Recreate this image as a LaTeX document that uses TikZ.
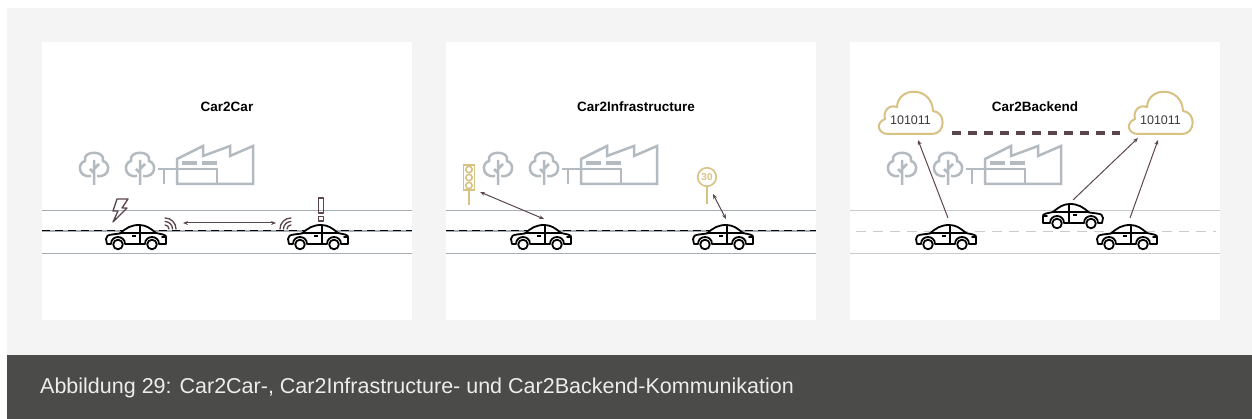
\documentclass[tikz,border=0pt]{standalone}
\usepackage{fontspec}
\setmainfont{Liberation Sans}
\usetikzlibrary{arrows.meta}

\definecolor{pagegray}{HTML}{F4F4F4}
\definecolor{barcol}{HTML}{4B4B49}
\definecolor{captext}{HTML}{EDEDED}
\definecolor{mauve}{HTML}{5B4650}
\definecolor{gold}{HTML}{D7C283}
\definecolor{scenery}{HTML}{B3BBC0}
\definecolor{roadcol}{HTML}{A7AEB3}
\definecolor{roadlight}{HTML}{C6CCD0}
\definecolor{cloudtext}{HTML}{3A3A3A}

\tikzset{
  panel/.style={fill=white, draw=none},
  roadline/.style={roadcol, line width=1.3pt},
  centerdash/.style={black, line width=1pt, dash pattern=on 8pt off 5pt},
  lightdash/.style={roadlight, line width=1.3pt, dash pattern=on 10pt off 7pt},
  sceneline/.style={scenery, line width=2.5pt, line join=miter},
  carline/.style={black, line width=1.8pt, line join=round, line cap=round},
  signal/.style={mauve, line width=1.3pt, line cap=round},
  iconline/.style={mauve, line width=1.3pt, line join=round},
  goldline/.style={gold, line width=1.6pt},
  cloudline/.style={gold, line width=2pt, line join=round},
  tip/.tip={Stealth[length=5pt,width=4pt]},
  link/.style={mauve, line width=1pt, tip-tip},
  uplink/.style={mauve, line width=1pt, -tip},
  backbone/.style={mauve, line width=3.5pt, dash pattern=on 9pt off 7pt},
  title/.style={font=\bfseries\fontsize{13.5}{15}\selectfont, text=black},
  bits/.style={font=\fontsize{12.5}{14}\selectfont, text=cloudtext},
  % tree: origin at the top middle of the crown
  tree/.pic={
    \draw[sceneline] (-3,23) .. controls (-16,25) and (-17,10) .. (-9,8)
      .. controls (-12,-3) and (12,-3) .. (9,8)
      .. controls (17,10) and (16,25) .. (3,23);
    \draw[sceneline] (0,7) -- (0,32) (0,20) -- (-4,16) (0,16) -- (5,11);
  },
  % factory with sawtooth roof: origin at the top-left corner
  factory/.pic={
    \draw[sceneline] (19,39) -- (19,14) -- (45,1) -- (45,11) -- (72,1) -- (72,11)
      -- (95,1) -- (95,39) -- cycle;
    \draw[sceneline] (0,24) -- (59,24) -- (59,39) (6,24) -- (6,39);
    \draw[scenery, line width=4pt] (24,18) -- (39,18) (44,18) -- (59,18);
  },
  % sedan facing right: origin at the top-left corner
  car/.pic={
    \draw[carline, fill=white] (6,19) -- (2,19) -- (1,14)
      .. controls (1,11) and (3,10) .. (7,9.5) -- (15,8.5)
      .. controls (21,3) and (26,0) .. (34,0)
      .. controls (41,0) and (45,3) .. (51,8) -- (58,9.5)
      .. controls (61,10) and (61,11) .. (61,13) -- (61,19) -- (54,19)
      .. controls (54,9.7) and (40,9.7) .. (40,19) -- (20,19)
      .. controls (20,9.7) and (6,9.7) .. (6,19) -- cycle;
    \draw[carline] (15,8) -- (51,8) (35,0) -- (35,19) (57,12) -- (61,12);
    \fill[black] (27,10) rectangle (31,12.5);
    \draw[carline, fill=white] (13,19.5) circle[radius=4.8pt] (47,19.5) circle[radius=4.8pt];
  },
  % data cloud: origin at the top-left corner
  cloud/.pic={
    \draw[cloudline, fill=white] (10,42) -- (54,42)
      .. controls (68,42) and (68,20) .. (55,19)
      .. controls (54,-6) and (20,-6) .. (19,15)
      .. controls (10,12) and (5,20) .. (7,27)
      .. controls (-3,31) and (0,42) .. (10,42) -- cycle;
  }
}

\begin{document}
\begin{tikzpicture}[x=1pt, y=-1pt]
  \useasboundingbox (0,0) rectangle (1252,419);
  \fill[white] (0,0) rectangle (1252,419);
  \fill[pagegray] (7,8) rectangle (1252,355);
  \fill[barcol] (7,355) rectangle (1252,419);

  % three panels
  \fill[panel] (42,42) rectangle (412,320);
  \fill[panel] (446,42) rectangle (816,320);
  \fill[panel] (850,42) rectangle (1220,320);

  % roads
  \foreach \xa/\xb in {42/412, 446/816} {
    \draw[roadline] (\xa,210.5) -- (\xb,210.5);
    \draw[roadline] (\xa,253.5) -- (\xb,253.5);
    \draw[roadline] (\xa,231) -- (\xb,231);
    \draw[centerdash] (\xa,231) -- (\xb,231);
  }
  \draw[roadline, roadlight] (850,210.5) -- (1220,210.5);
  \draw[roadline, roadlight] (850,253.5) -- (1220,253.5);
  \draw[lightdash] (856,231.5) -- (1216,231.5);

  % scenery: trees and factory
  \foreach \dx in {0, 404, 808} {
    \pic at ({94+\dx},153) {tree};
    \pic at ({140+\dx},153) {tree};
    \pic at ({158+\dx},145) {factory};
  }

  % titles
  \node[title] (t1) at (227,107) {Car2Car};
  \node[title] (t2) at (636,107) {Car2Infrastructure};
  \node[title] (t3) at (1035,107) {Car2Backend};

  % ---- Car2Car
  \pic at (105,225) {car};
  \pic at (287,225) {car};
  \draw[iconline] (117,199) -- (128,199) -- (122,208) -- (127,208) -- (113,222)
    -- (118,211) -- (113,211) -- cycle;
  \draw[iconline] (318.5,198) rectangle (323.5,213);
  \draw[iconline] (318.5,216.5) rectangle (323.5,221);
  \foreach \r in {4,7.5,11} {
    \draw[signal] (165,{229-\r}) .. controls +({0.552*\r},0) and +(0,{-0.552*\r}) .. ({165+\r},229);
    \draw[signal] ({291-\r},229) .. controls +(0,{-0.552*\r}) and +({-0.552*\r},0) .. (291,{229-\r});
  }
  \coordinate (v2vA) at (183,223);
  \coordinate (v2vB) at (276,223);
  \draw[link] (v2vA) -- (v2vB);

  % ---- Car2Infrastructure
  \pic at (510,225) {car};
  \pic at (692,225) {car};
  \draw[goldline] (469,190) -- (469,205);
  \draw[goldline, fill=white] (463.5,165) rectangle (474.5,190);
  \foreach \yy in {169.5,177.5,185.5}
    \draw[goldline] (469,\yy) circle[radius=3.2pt];
  \draw[goldline] (707,186.5) -- (707,204);
  \node[circle, draw=gold, line width=1.6pt, inner sep=0pt, minimum size=18.5pt,
        text=gold, font=\bfseries\fontsize{10}{11}\selectfont] (speed) at (707,177) {30};
  \coordinate (lightEnd) at (480,192);
  \coordinate (carA) at (544,219);
  \coordinate (signEnd) at (713,194);
  \coordinate (carB) at (726,219);
  \draw[link] (lightEnd) -- (carA);
  \draw[link] (signEnd) -- (carB);

  % ---- Car2Backend
  \pic at (915,225) {car};
  \pic[xscale=-1] at (1104,204) {car};
  \pic at (1096,225) {car};
  \pic at (878,92) {cloud};
  \pic at (1128,92) {cloud};
  \node[bits] (bitsL) at (910.5,120) {101011};
  \node[bits] (bitsR) at (1160.5,120) {101011};
  \coordinate (bbL) at (952,133);
  \coordinate (bbR) at (1120,133);
  \draw[backbone] (bbL) -- (bbR);
  \coordinate (up1) at (948,218);
  \coordinate (cl1) at (918,140);
  \coordinate (up2) at (1073,200);
  \coordinate (cl2) at (1138,138);
  \coordinate (up3) at (1130,218);
  \coordinate (cl3) at (1158,140);
  \draw[uplink] (up1) -- (cl1);
  \draw[uplink] (up2) -- (cl2);
  \draw[uplink] (up3) -- (cl3);

  % caption
  \node[anchor=west, text=captext, inner sep=0pt,
        font=\fontsize{21.5}{24}\selectfont] (caption) at (40,388)
    {Abbildung 29: Car2Car-, Car2Infrastructure- und Car2Backend-Kommunikation};
\end{tikzpicture}
\end{document}
